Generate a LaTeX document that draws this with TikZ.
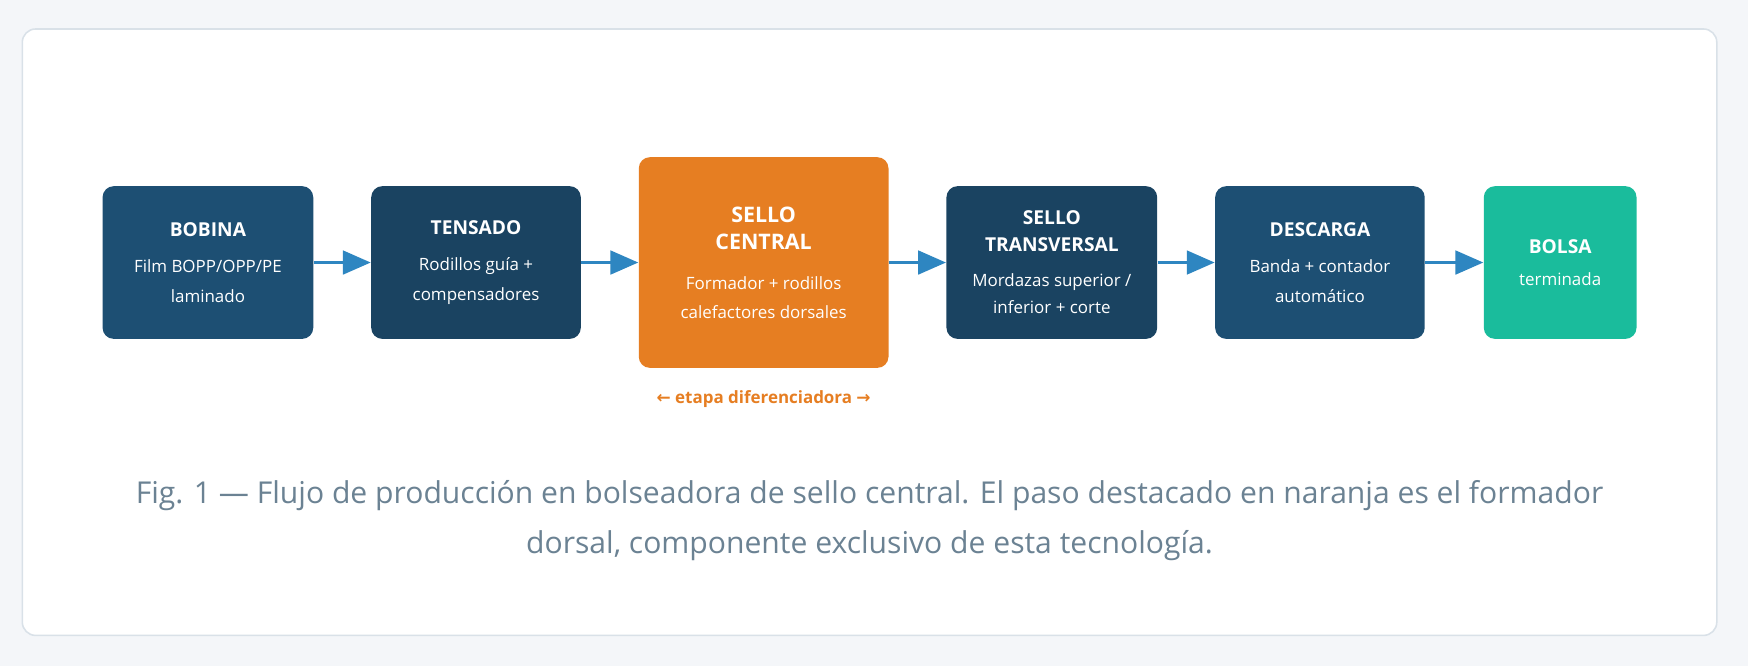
\documentclass[tikz,border=0pt]{standalone}
\usepackage{fontspec}
\setmainfont{Open Sans}
\newfontfamily\symfont{DejaVu Sans}
\usetikzlibrary{arrows.meta,positioning}
\definecolor{pagebg}{HTML}{F4F6F9}
\definecolor{cardline}{HTML}{D9E1E8}
\definecolor{navyA}{HTML}{1D4F73}
\definecolor{navyB}{HTML}{1A4361}
\definecolor{orangeC}{HTML}{E67E22}
\definecolor{tealD}{HTML}{1ABC9C}
\definecolor{flowblue}{HTML}{2E86C1}
\definecolor{captiongray}{HTML}{6B8293}
\begin{document}
\begin{tikzpicture}[x=0.5pt,y=-0.5pt,
    stage/.style={rounded corners=5pt,text=white,align=center,inner sep=0pt},
    flow/.style={draw=flowblue,line width=1.6pt,-{Triangle[length=12.5pt,width=10.5pt]}}]
  \fill[pagebg] (0,0) rectangle (1568,597);
  \useasboundingbox (0,0) rectangle (1568,597);
  \filldraw[fill=white,draw=cardline,line width=0.7pt,rounded corners=6pt] (20,26) rectangle (1540,570);

  \node[stage,fill=navyA,minimum width=94.5pt,minimum height=68.5pt] (bobina) at (186.5,235.5)
    {\parbox{94pt}{\centering{\fontsize{8.6}{13}\selectfont\bfseries BOBINA}\\[2.5pt]
     \fontsize{7.6}{13.5}\selectfont Film BOPP/OPP/PE\\laminado}};
  \node[stage,fill=navyB,minimum width=94pt,minimum height=68.5pt] (tensado) at (427,235.5)
    {\parbox{94pt}{\centering{\fontsize{8.6}{13}\selectfont\bfseries TENSADO}\\[2.5pt]
     \fontsize{7.6}{13.5}\selectfont Rodillos guía +\\compensadores}};
  \node[stage,fill=orangeC,minimum width=112pt,minimum height=94.5pt] (central) at (685,235.5)
    {\parbox{112pt}{\centering{\fontsize{9.6}{14.5}\selectfont\bfseries SELLO\\CENTRAL}\\[5pt]
     \fontsize{7.6}{13}\selectfont Formador + rodillos\\calefactores dorsales}};
  \node[stage,fill=navyB,minimum width=94.5pt,minimum height=68.5pt] (transversal) at (943.5,235.5)
    {\parbox{94pt}{\centering{\fontsize{8.6}{13.5}\selectfont\bfseries SELLO\\TRANSVERSAL}\\[3pt]
     \fontsize{7.6}{12.5}\selectfont Mordazas superior /\\inferior + corte}};
  \node[stage,fill=navyA,minimum width=94pt,minimum height=68.5pt] (descarga) at (1184,235.5)
    {\parbox{94pt}{\centering{\fontsize{8.6}{13}\selectfont\bfseries DESCARGA}\\[2.5pt]
     \fontsize{7.6}{13.5}\selectfont Banda + contador\\automático}};
  \node[stage,fill=tealD,minimum width=68.5pt,minimum height=68.5pt] (bolsa) at (1399.5,235.5)
    {\parbox{68pt}{\centering{\fontsize{8.6}{13}\selectfont\bfseries BOLSA}\\[1.5pt]
     \fontsize{7.6}{13}\selectfont terminada}};

  \foreach \a/\b in {bobina/tensado,tensado/central,central/transversal,
                     transversal/descarga,descarga/bolsa}
    \draw[flow] (\a) -- (\b);

  \node[text=orangeC,font=\fontsize{7.6}{9}\selectfont\bfseries] (etapa) at (685,358)
    {{\symfont ←} etapa diferenciadora {\symfont →}};
  \node[text=captiongray,align=center,font=\fontsize{13.5}{22.5}\selectfont] (caption) at (780,467)
    {Fig. 1 — Flujo de producción en bolseadora de sello central. El paso destacado en naranja es el formador\\
     dorsal, componente exclusivo de esta tecnología.};
\end{tikzpicture}
\end{document}
